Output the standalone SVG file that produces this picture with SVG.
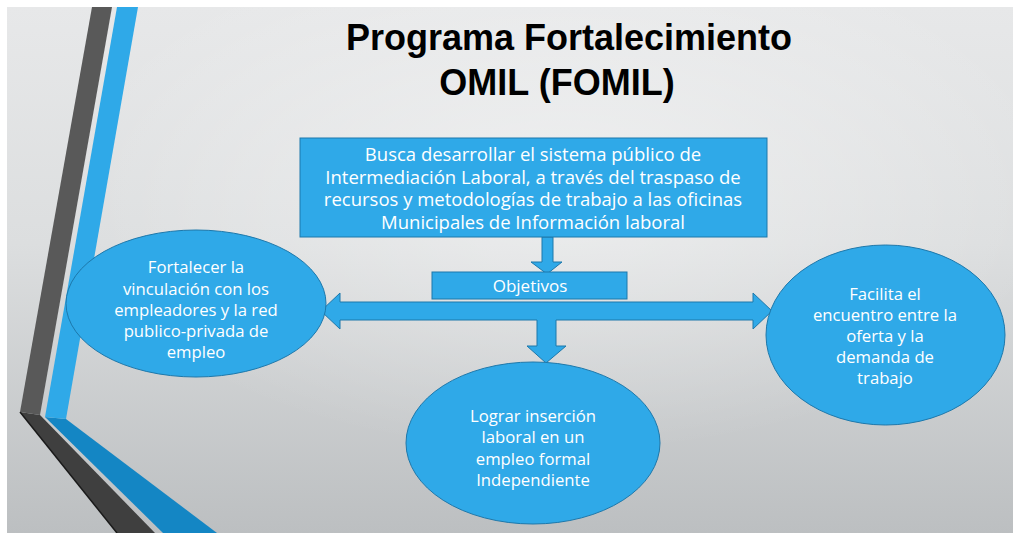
<svg xmlns="http://www.w3.org/2000/svg" width="1013" height="533" viewBox="0 0 1013 533">
  <defs>
    <linearGradient id="bg" x1="0" y1="0" x2="0" y2="1">
      <stop offset="0" stop-color="#e7e8e9"/>
      <stop offset="0.45" stop-color="#dcdedf"/>
      <stop offset="1" stop-color="#bcbfc1"/>
    </linearGradient>
    <radialGradient id="glow" cx="0.55" cy="0.35" r="0.5">
      <stop offset="0" stop-color="#ffffff" stop-opacity="0.45"/>
      <stop offset="1" stop-color="#ffffff" stop-opacity="0"/>
    </radialGradient>
    <style>
      .shape { fill: #2fa9e8; stroke: #1d78ab; stroke-width: 1; }
      .t { font-family: "Open Sans", Lato, sans-serif; fill: #ffffff; text-anchor: middle; }
      .box { font-size: 18.5px; }
      .obj { font-size: 17px; }
      .ell { font-size: 16.7px; }
      .title { font-family: "Liberation Sans", Arial, sans-serif; font-weight: bold; font-size: 36px; fill: #000000; text-anchor: middle; }
    </style>
  </defs>

  <rect x="0" y="0" width="1013" height="533" fill="#ffffff"/>
  <rect x="7" y="7" width="1006" height="526" fill="url(#bg)"/>
  <rect x="7" y="7" width="1006" height="526" fill="url(#glow)"/>

  <g id="decoration">
    <polygon points="20,412 40,415 155,533 117,533" fill="#3f3f3f"/>
    <line x1="20" y1="412" x2="117" y2="533" stroke="#1a1a1a" stroke-width="1.5"/>
    <polygon points="45,417 66,419 217,533 163,533" fill="#1486c4"/>
    <polygon points="92,7 112,7 40,415 20,412" fill="#595959"/>
    <polygon points="117,7 138,7 66,419 45,417" fill="#2fa9e8"/>
  </g>

  <g id="title">
    <text class="title" x="569" y="50">Programa Fortalecimiento</text>
    <text class="title" x="557" y="95">OMIL (FOMIL)</text>
  </g>

  <g id="connectors">
    <polygon class="shape" points="542,237 553,237 553,262 562,262 547,274 531,262 542,262"/>
    <polygon class="shape" points="321,311 340,293 340,302 753,302 753,293 772,311 753,329 753,320 556,320 556,346 566,346 546,363 527,346 537,346 537,320 340,320 340,329"/>
  </g>

  <g id="node-programa">
    <rect class="shape" x="300" y="138" width="467" height="99"/>
    <text class="t box" x="533" y="161">Busca desarrollar el sistema público de</text>
    <text class="t box" x="533" y="183.5">Intermediación Laboral, a través del traspaso de</text>
    <text class="t box" x="533" y="206">recursos y metodologías de trabajo a las oficinas</text>
    <text class="t box" x="533" y="228.5">Municipales de Información laboral</text>
  </g>

  <g id="node-objetivos">
    <rect class="shape" x="432" y="272" width="195" height="27"/>
    <text class="t obj" x="530" y="292">Objetivos</text>
  </g>

  <g id="node-fortalecer">
    <ellipse class="shape" cx="196" cy="303.5" rx="130" ry="73.5"/>
    <text class="t ell" x="196" y="273">Fortalecer la</text>
    <text class="t ell" x="196" y="294.5">vinculación con los</text>
    <text class="t ell" x="196" y="316">empleadores y la red</text>
    <text class="t ell" x="196" y="337">publico-privada de</text>
    <text class="t ell" x="196" y="358">empleo</text>
  </g>

  <g id="node-facilita">
    <ellipse class="shape" cx="885.5" cy="335" rx="119.5" ry="90"/>
    <text class="t ell" x="885" y="300">Facilita el</text>
    <text class="t ell" x="885" y="321">encuentro entre la</text>
    <text class="t ell" x="885" y="342">oferta y la</text>
    <text class="t ell" x="885" y="363">demanda de</text>
    <text class="t ell" x="885" y="384">trabajo</text>
  </g>

  <g id="node-lograr">
    <ellipse class="shape" cx="533" cy="443" rx="127" ry="81"/>
    <text class="t ell" x="533" y="422">Lograr inserción</text>
    <text class="t ell" x="533" y="443">laboral en un</text>
    <text class="t ell" x="533" y="464.5">empleo formal</text>
    <text class="t ell" x="533" y="485.5">Independiente</text>
  </g>
</svg>
